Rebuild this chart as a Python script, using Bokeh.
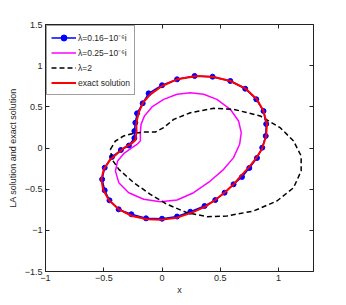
from bokeh.plotting import figure
from bokeh.models import Range1d, FixedTicker, LinearAxis, Legend, LegendItem
from bokeh.embed import file_html
from bokeh.resources import INLINE

# exact solution (red)
red_x = [0.30, 0.443, 0.586, 0.714, 0.814, 0.871, 0.90, 0.894, 0.857, 0.80, 0.743, 0.671, 0.614,
         0.543, 0.457, 0.371, 0.257, 0.129, 0.0, -0.129, -0.257, -0.371, -0.457, -0.506, -0.52,
         -0.50, -0.449, -0.386, -0.323, -0.263, -0.229, -0.22, -0.22, -0.20, -0.163, -0.10, 0.0,
         0.129, 0.30]
red_y = [0.875, 0.862, 0.814, 0.725, 0.591, 0.449, 0.287, 0.146, -0.016, -0.138, -0.239, -0.348,
         -0.441, -0.534, -0.632, -0.713, -0.785, -0.846, -0.870, -0.866, -0.826, -0.745, -0.632,
         -0.502, -0.381, -0.259, -0.150, -0.069, 0.004, 0.053, 0.093, 0.186, 0.308, 0.429, 0.551,
         0.652, 0.753, 0.834, 0.875]

# LA solution lambda=0.16-1e-6 i (blue, markers)
blue_x = [-0.430, -0.353, -0.284, -0.237, -0.237, -0.229, -0.214, -0.166, -0.115, 0.0,
          0.129, 0.280, 0.434, 0.586, 0.714, 0.809, 0.871, 0.894, 0.890, 0.860,
          0.815, 0.749, 0.686, 0.614, 0.537, 0.457, 0.365, 0.243, 0.129, 0.0,
          -0.137, -0.263, -0.372, -0.451, -0.492, -0.514, -0.492]
blue_y = [-0.109, -0.024, 0.030, 0.121, 0.206, 0.307, 0.421, 0.543, 0.664, 0.762,
          0.834, 0.875, 0.866, 0.814, 0.720, 0.592, 0.449, 0.292, 0.146, 0.004,
          -0.121, -0.243, -0.352, -0.441, -0.543, -0.632, -0.704, -0.774, -0.832, -0.859,
          -0.854, -0.805, -0.745, -0.635, -0.514, -0.380, -0.239]

# LA solution lambda=0.25-1e-6 i (magenta)
mag_x = [-0.186, -0.186, -0.18, -0.151, -0.086, 0.014, 0.129, 0.243, 0.357, 0.471, 0.586, 0.657,
         0.68, 0.666, 0.614, 0.529, 0.414, 0.271, 0.129, -0.014, -0.157, -0.286, -0.371, -0.40,
         -0.381, -0.329, -0.257, -0.214, -0.186]
mag_y = [0.085, 0.186, 0.287, 0.389, 0.498, 0.591, 0.652, 0.672, 0.652, 0.591, 0.470, 0.328,
         0.186, 0.045, -0.117, -0.259, -0.401, -0.543, -0.632, -0.652, -0.623, -0.543, -0.421,
         -0.279, -0.158, -0.069, 0.004, 0.045, 0.085]

# LA solution lambda=2 (black dashed)
blk_x = [-0.443, -0.40, -0.329, -0.243, -0.157, -0.057, 0.014, 0.10, 0.243, 0.443, 0.614, 0.843,
         1.014, 1.129, 1.194, 1.194, 1.129, 0.986, 0.786, 0.557, 0.386, 0.214, 0.043, -0.10,
         -0.243, -0.371, -0.429, -0.443]
blk_y = [-0.016, 0.085, 0.146, 0.178, 0.194, 0.194, 0.247, 0.348, 0.429, 0.482, 0.470, 0.389,
         0.247, 0.085, -0.097, -0.279, -0.482, -0.644, -0.765, -0.826, -0.834, -0.785, -0.684,
         -0.563, -0.421, -0.259, -0.138, -0.016]

x_ticks = [-1, -0.5, 0, 0.5, 1]
y_ticks = [-1.5, -1, -0.5, 0, 0.5, 1, 1.5]

labels = ["λ=0.16−10⁻⁶i", "λ=0.25−10⁻⁶i", "λ=2", "exact solution"]

FONT = "Liberation Sans"
TXT = "#262626"

p = figure(width=338, height=297, output_backend="svg", toolbar_location=None,
           x_range=Range1d(-1, 1.3), y_range=Range1d(-1.5, 1.5),
           min_border_left=45, min_border_right=25, min_border_top=24, min_border_bottom=26)
p.background_fill_color = "white"
p.border_fill_color = "white"
p.grid.visible = False
p.outline_line_color = "#222222"
p.outline_line_width = 1

def style_axis(ax, show_labels=True):
    ax.major_tick_in = 4
    ax.major_tick_out = 0
    ax.minor_tick_line_color = None
    ax.axis_line_color = "#222222"
    ax.major_tick_line_color = "#222222"
    ax.major_label_text_font = FONT
    ax.major_label_text_font_size = "9px"
    ax.major_label_text_color = TXT
    ax.axis_label_text_font = FONT
    ax.axis_label_text_font_size = "9px"
    ax.axis_label_text_font_style = "normal"
    ax.axis_label_text_color = TXT
    if not show_labels:
        ax.major_label_text_font_size = "0px"
        ax.major_label_text_color = None

p.xaxis.ticker = FixedTicker(ticks=x_ticks)
p.yaxis.ticker = FixedTicker(ticks=y_ticks)
style_axis(p.xaxis[0])
style_axis(p.yaxis[0])
p.xaxis.axis_label = "x"
p.yaxis.axis_label = "LA solution and exact solution"
p.xaxis.major_label_standoff = 3
p.yaxis.major_label_standoff = 3
p.xaxis.axis_label_standoff = 1
p.yaxis.axis_label_standoff = 4

ax_r = LinearAxis(ticker=FixedTicker(ticks=y_ticks))
style_axis(ax_r, False)
p.add_layout(ax_r, "right")
ax_t = LinearAxis(ticker=FixedTicker(ticks=x_ticks))
style_axis(ax_t, False)
p.add_layout(ax_t, "above")

bl_x = blue_x + blue_x[:1]
bl_y = blue_y + blue_y[:1]
r_bl = p.line(bl_x, bl_y, line_color="#0000ff", line_width=1.5)
r_bm = p.scatter(blue_x, blue_y, marker="circle", size=5, fill_color="#0000ff",
                 line_color="#0000ff")
r_m = p.line(mag_x, mag_y, line_color="#ff00ff", line_width=1.5)
r_k = p.line(blk_x, blk_y, line_color="black", line_width=1.5, line_dash="5 3")
r_r = p.line(red_x, red_y, line_color="#ff0000", line_width=2)

legend = Legend(items=[
    LegendItem(label=labels[0], renderers=[r_bl, r_bm]),
    LegendItem(label=labels[1], renderers=[r_m]),
    LegendItem(label=labels[2], renderers=[r_k]),
    LegendItem(label=labels[3], renderers=[r_r]),
], location="top_left")
legend.margin = 1
legend.padding = 4
legend.spacing = 0
legend.glyph_width = 25
legend.glyph_height = 15
legend.label_height = 15
legend.label_standoff = 2
legend.label_text_font = FONT
legend.label_text_font_size = "8.5px"
legend.label_text_color = TXT
legend.border_line_color = "#404040"
legend.border_line_width = 1
legend.background_fill_color = "white"
legend.background_fill_alpha = 1
p.add_layout(legend, "center")

open("out.html", "w").write(file_html(p, INLINE))
